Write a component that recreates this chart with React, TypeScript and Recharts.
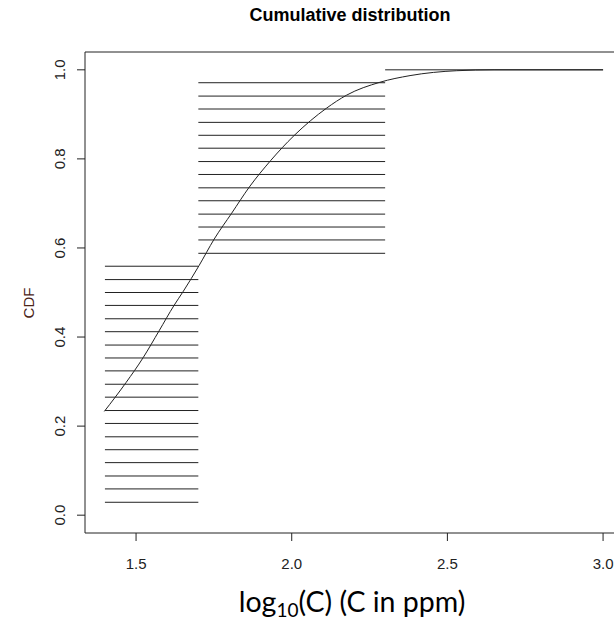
import React from "react";
import {
  ComposedChart,
  Line,
  XAxis,
  YAxis,
  ReferenceLine,
  ReferenceArea,
} from "recharts";

// step levels of the empirical CDF, one horizontal segment each
const lowStart = 1.4;
const lowEnd = 1.7;
const lowLevels = [
  0.029, 0.059, 0.088, 0.118, 0.147, 0.176, 0.206, 0.235, 0.265, 0.294,
  0.324, 0.353, 0.382, 0.412, 0.441, 0.471, 0.5, 0.529, 0.559,
];

const midStart = 1.7;
const midEnd = 2.3;
const midLevels = [
  0.588, 0.618, 0.647, 0.676, 0.706, 0.735, 0.765, 0.794, 0.824, 0.853,
  0.882, 0.912, 0.941, 0.971,
];

const highStart = 2.3;
const highEnd = 3.0;
const highLevels = [1.0];

// fitted smooth CDF
const curveX = [
  1.398, 1.468, 1.523, 1.574, 1.622, 1.652, 1.702, 1.751, 1.807, 1.864,
  1.932, 2.007, 2.112, 2.176, 2.283, 2.38, 2.53, 2.65, 3.0,
];
const curveY = [
  0.233, 0.298, 0.354, 0.414, 0.471, 0.503, 0.56, 0.62, 0.678, 0.737,
  0.796, 0.852, 0.914, 0.943, 0.972, 0.987, 0.998, 1.0, 1.0,
];

const xTicks = [1.5, 2.0, 2.5, 3.0];
const yTicks = [0, 0.2, 0.4, 0.6, 0.8, 1.0];

const xDomain: [number, number] = [1.336, 3.064];
const yDomain: [number, number] = [-0.04, 1.04];

const curve = curveX.map((x, i) => ({ x, y: curveY[i] }));

const font = "'Liberation Sans', Arial, sans-serif";
const ink = "#222";

const XTick = ({ x, payload }: any) => (
  <text x={x} y={569} textAnchor="middle" fontSize={15} fontFamily={font} fill={ink}>
    {payload.value.toFixed(1)}
  </text>
);

const YTick = ({ y, payload }: any) => (
  <text
    x={65}
    y={y}
    transform={`rotate(-90, 65, ${y})`}
    textAnchor="middle"
    fontSize={15}
    fontFamily={font}
    fill={ink}
  >
    {payload.value.toFixed(1)}
  </text>
);

const YLabel = () => (
  <text
    x={34}
    y={303}
    transform="rotate(-90, 34, 303)"
    textAnchor="middle"
    fontSize={15}
    fontFamily={font}
    fill="#4a2418"
  >
    CDF
  </text>
);

const segments = (levels: number[], x1: number, x2: number, key: string) =>
  levels.map((v, i) => (
    <ReferenceLine
      key={`${key}-${i}`}
      segment={[
        { x: x1, y: v },
        { x: x2, y: v },
      ]}
      stroke={ink}
      strokeWidth={1}
      ifOverflow="visible"
    />
  ));

export default function App() {
  return (
    <div
      style={{
        position: "absolute",
        left: 0,
        top: 0,
        width: 614,
        height: 626,
        overflow: "hidden",
        background: "#fff",
      }}
    >
      <div
        style={{
          position: "absolute",
          left: 0,
          width: 700,
          top: 6,
          textAlign: "center",
          fontFamily: font,
          fontWeight: "bold",
          fontSize: 18,
          lineHeight: "18px",
          color: "#000",
        }}
      >
        Cumulative distribution
      </div>
      <div style={{ position: "absolute", left: 0, top: 0 }}>
        <ComposedChart
          width={640}
          height={626}
          data={curve}
          margin={{ top: 52, right: 17, bottom: 0, left: 0 }}
        >
          <XAxis
            dataKey="x"
            type="number"
            domain={xDomain}
            ticks={xTicks}
            allowDataOverflow
            axisLine={false}
            tickLine={{ stroke: ink }}
            tickSize={8}
            height={93}
            tick={<XTick />}
          />
          <YAxis
            type="number"
            domain={yDomain}
            ticks={yTicks}
            allowDataOverflow
            axisLine={false}
            tickLine={{ stroke: ink }}
            tickSize={8}
            width={85}
            tick={<YTick />}
            label={<YLabel />}
          />
          <ReferenceArea
            x1={xDomain[0]}
            x2={xDomain[1]}
            y1={yDomain[0]}
            y2={yDomain[1]}
            fill="none"
            stroke={ink}
            strokeWidth={1}
            ifOverflow="visible"
          />
          {segments(lowLevels, lowStart, lowEnd, "low")}
          {segments(midLevels, midStart, midEnd, "mid")}
          {segments(highLevels, highStart, highEnd, "high")}
          <Line
            dataKey="y"
            type="monotone"
            stroke={ink}
            strokeWidth={1}
            dot={false}
            isAnimationActive={false}
          />
        </ComposedChart>
      </div>
      <div
        style={{
          position: "absolute",
          left: 0,
          width: 704,
          top: 586,
          textAlign: "center",
          fontFamily: "Lato, 'Open Sans', sans-serif",
          fontSize: 28.5,
          lineHeight: "30px",
          color: "#000",
        }}
      >
        log<sub style={{ fontSize: 19, verticalAlign: "-5px", lineHeight: 0 }}>10</sub>(C) (C in ppm)
      </div>
    </div>
  );
}
